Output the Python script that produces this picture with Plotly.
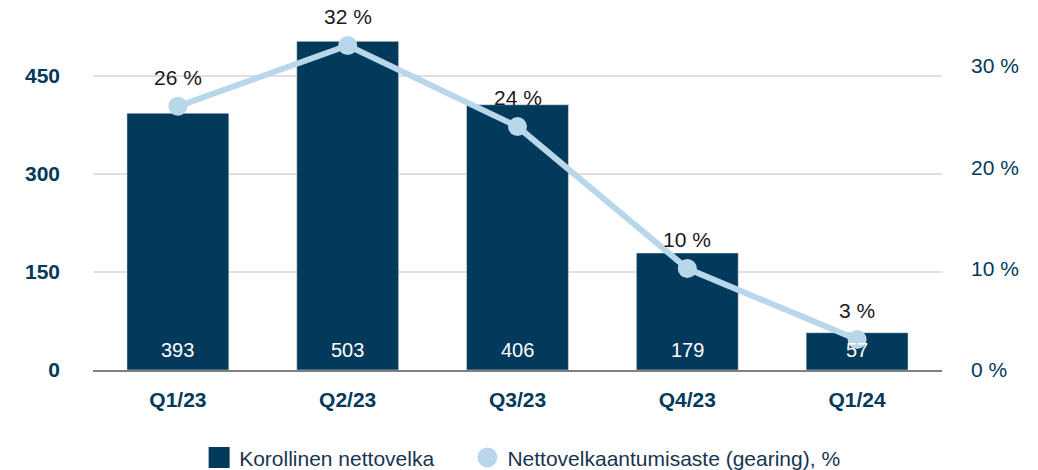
import plotly.graph_objects as go

quarters = ["Q1/23", "Q2/23", "Q3/23", "Q4/23", "Q1/24"]
net_debt = [393, 503, 406, 179, 57]
gearing = [26, 32, 24, 10, 3]

left_ticks = [0, 150, 300, 450]
right_ticks = [0, 10, 20, 30]

NAVY = "#033a5c"
LIGHT = "#b9d7ea"
FONT = "Liberation Sans, Arial, sans-serif"

fig = go.Figure()

fig.add_trace(
    go.Bar(
        x=quarters,
        y=net_debt,
        name="Korollinen nettovelka",
        marker=dict(color=NAVY),
        showlegend=False,
    )
)

fig.add_trace(
    go.Scatter(
        x=quarters,
        y=gearing,
        yaxis="y2",
        mode="lines+markers",
        line=dict(color=LIGHT, width=6),
        marker=dict(color=LIGHT, size=19),
        showlegend=False,
        cliponaxis=False,
    )
)

# legend entries: big square / circle (legend caps marker size, so pad with an outline)
fig.add_trace(
    go.Scatter(
        x=[None], y=[None], mode="markers",
        name="Korollinen nettovelka",
        marker=dict(color=NAVY, size=16, symbol="square", line=dict(color=NAVY, width=5)),
        legend="legend",
    )
)
fig.add_trace(
    go.Scatter(
        x=[None], y=[None], yaxis="y2", mode="markers",
        name="Nettovelkaantumisaste (gearing), %",
        marker=dict(color=LIGHT, size=16, line=dict(color=LIGHT, width=4)),
        legend="legend2",
    )
)

# value labels at the base of the bars
for q, v in zip(quarters, net_debt):
    fig.add_annotation(
        x=q, y=0, text=str(v), showarrow=False,
        yanchor="middle", yshift=20,
        font=dict(size=20, color="white", family=FONT),
    )

# labels above the line points
for q, g in zip(quarters, gearing):
    fig.add_annotation(
        x=q, y=g, yref="y2", text=f"{g} %", showarrow=False,
        yanchor="middle", yshift=29,
        font=dict(size=21, color="#1a1a1a", family=FONT),
    )

legend_style = dict(
    orientation="h",
    xanchor="left",
    yref="container",
    y=0.026,
    yanchor="middle",
    font=dict(size=21, color="#17354f", family=FONT),
    itemwidth=30,
)

fig.update_layout(
    width=1038,
    height=470,
    margin=dict(l=93, r=96, t=10, b=100),
    plot_bgcolor="white",
    paper_bgcolor="white",
    font=dict(family=FONT),
    bargap=0.4,
    xaxis=dict(
        showgrid=False,
        showline=True,
        linecolor="#808080",
        linewidth=2,
        ticks="",
        automargin=False,
        ticklabelstandoff=10,
        tickfont=dict(size=21, color=NAVY, family=FONT, weight="bold"),
    ),
    yaxis=dict(
        range=[0, 551],
        tickvals=left_ticks,
        showgrid=True,
        gridcolor="#e0e0e0",
        gridwidth=2,
        zeroline=False,
        automargin=False,
        tickfont=dict(size=21, color=NAVY, family=FONT, weight="bold"),
        ticklabelstandoff=32,
    ),
    yaxis2=dict(
        overlaying="y",
        side="right",
        range=[0, 35.5],
        tickvals=right_ticks,
        ticktext=[f"{t} %" for t in right_ticks],
        showgrid=False,
        zeroline=False,
        automargin=False,
        tickfont=dict(size=21, color=NAVY, family=FONT),
        ticklabelstandoff=28,
    ),
    legend=dict(x=0.125, **legend_style),
    legend2=dict(x=0.441, **legend_style),
    showlegend=True,
)

# drop the default body margin so the figure sits at the window corner
fig.write_html(
    "out.html",
    config={"displayModeBar": False},
    post_script="document.body.style.margin='0';",
)
